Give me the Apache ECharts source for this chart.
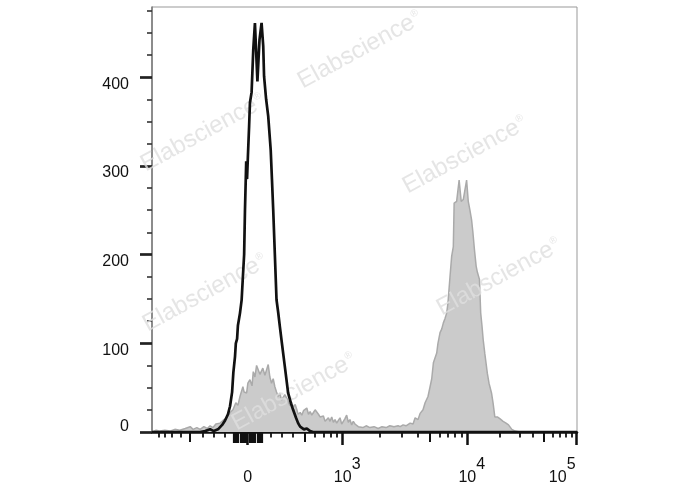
<!DOCTYPE html>
<html><head><meta charset="utf-8">
<script src="https://cdn.jsdelivr.net/npm/echarts@6/dist/echarts.min.js"></script>
<style>html,body{margin:0;padding:0;background:#fff}#c{width:688px;height:490px}</style>
</head><body><div id="c"></div>
<script>
// Histogram data: x = display channel (0..1024 biexponential scale), y = event count
const greyChannel = [0,10,19,31,43,55,67,80,92,99,108,116,125,133,140,147,154,164,171,180,188,195,202,207,212,219,222,228,231,236,241,244,248,252,256,260,264,267,272,276,280,284,288,292,296,300,304,308,312,316,320,325,328,332,337,340,345,349,352,357,361,365,369,373,377,381,385,389,393,397,401,405,409,413,417,421,425,429,433,437,441,445,449,453,457,461,465,469,473,477,481,485,489,493,497,501,508,516,525,535,545,554,564,573,583,593,598,605,612,622,629,634,641,646,653,658,665,670,674,678,682,686,689,694,698,702,706,710,713,718,722,726,728,734,740,745,750,758,762,766,770,773,777,781,784,789,792,795,798,802,808,812,818,822,826,832,838,846,853,859,863,867,875,887,1024];
const greyCount = [0,2,1,2,1,3,2,4,6,3,5,3,6,4,7,5,9,10,13,16,22,25,33,30,40,51,45,44,55,59,52,68,62,75,74,65,66,72,64,70,76,62,55,60,51,45,40,44,36,36,42,38,40,30,33,28,31,25,20,22,19,24,22,27,20,23,19,22,25,27,20,17,15,18,12,14,16,12,17,11,14,10,13,16,9,12,15,19,11,14,8,12,9,10,6,8,5,7,5,6,4,6,5,7,6,7,6,8,7,10,9,16,14,21,25,33,40,51,60,78,80,89,100,112,116,123,128,134,145,175,198,209,258,260,284,260,262,284,260,250,239,226,205,187,180,172,134,120,104,88,66,55,44,32,17,17,15,12,10,8,6,3,1,0,0];
const blackChannel = [0,116,128,140,149,159,169,176,183,188,193,196,200,202,205,207,212,216,219,222,224,227,229,231,234,236,240,244,248,254,259,264,268,270,275,280,286,289,292,296,300,304,308,313,320,328,335,340,347,352,357,361,366,373,376,381,388,1024];
const blackCount = [0,0,1,3,1,3,8,13,20,29,45,67,85,100,105,120,134,149,175,200,250,305,285,310,345,371,383,431,461,395,442,461,435,401,375,356,318,285,251,200,149,135,119,100,74,44,32,25,16,10,6,4,3,4,3,1,0,0];

// Axis ticks (fluorescence units) and labels
const yMajorTicks = [0,100,200,300,400];
const yMinorTicks = [25,50,75,125,150,175,225,250,275,325,350,375,425,450,475];
const xMajorTicks = [0,1e3,1e4,1e5];
const xMidTicks = [-500,500,5000,50000];
const xMinorTicks = [-900,-800,-700,-600,-400,-300,-200,200,300,400,600,700,800,900,2000,3000,4000,6000,7000,8000,9000,20000,30000,40000,60000,70000,80000,90000];
const xNearZeroTicks = [-130,-120,-110,-100,-90,-80,-70,-60,-50,-40,-30,-20,-10,10,20,30,40,50,60,70,80,90,100,110,120,130];
const xLabelValues = [0,1e3,1e4,1e5];
const xLabelBase = ['0','10','10','10'];
const xLabelExp = ['','3','4','5'];

// Biexponential display scale: value -> channel
const ZERO_CH = 230.6, LIN_SLOPE = 0.2735, CH_1E3 = 459.5, CH_1E4 = 759.7, DEC_LOW = 300.2, DEC_HIGH = 263.6;
function biex(v){
  const a = Math.abs(v); let p;
  if (a <= 400) p = LIN_SLOPE*a;
  else if (a <= 1e4) p = CH_1E3 - ZERO_CH + DEC_LOW*Math.log10(a/1e3);
  else p = CH_1E4 - ZERO_CH + DEC_HIGH*Math.log10(a/1e4);
  return ZERO_CH + Math.sign(v)*p;
}

const FONT = 'Liberation Sans, Arial, sans-serif';
const labelCh = xLabelValues.map(biex);
function xLabelFmt(ch){
  let best = 0, bd = 1e9;
  labelCh.forEach((c,i)=>{ const d=Math.abs(c-ch); if(d<bd){bd=d;best=i;} });
  if (!xLabelExp[best]) return '{z|' + xLabelBase[best] + '}';
  if (best === xLabelValues.length-1) return '{b5|' + xLabelBase[best] + '}{s5|' + xLabelExp[best] + '}';
  return '{b|' + xLabelBase[best] + '}{s|' + xLabelExp[best] + '}';
}
function xTickAxis(vals, len, width){
  return {
    type:'value', min:0, max:1024, position:'bottom', gridIndex:0,
    axisLine:{show:false}, splitLine:{show:false}, axisLabel:{show:false},
    axisTick:{show:true, inside:false, length:len, customValues: vals.map(biex), lineStyle:{color:'#111', width:width}}
  };
}

const chart = echarts.init(document.getElementById('c'), null, {renderer:'canvas'});
const WM = 'rgba(222,222,222,0.8)';
const wmStyle = {fill:WM, fontFamily:FONT, fontSize:24,
  rich:{a:{fontSize:24, fontFamily:FONT, fill:WM}, r:{fontSize:10, fontFamily:FONT, fill:WM, padding:[0,0,12,1]}}};
const wmPos = [[360,50],[203,133],[465,155],[205,293],[499,277],[294,392]];

const T = {fontSize:16, fontFamily:FONT, lineHeight:16, color:'#111'};
chart.setOption({
  animation:false,
  backgroundColor:'#fff',
  grid:{left:152, right:111, top:7, bottom:58, show:true, borderColor:'#999', borderWidth:1},
  xAxis:[
    {type:'value', min:0, max:1024, position:'bottom',
      axisLine:{show:true, onZero:false, lineStyle:{color:'#111', width:2.5}},
      splitLine:{show:false},
      axisTick:{show:true, length:13, customValues: xMajorTicks.map(biex), lineStyle:{color:'#111', width:2.5}},
      axisLabel:{show:true, customValues: labelCh, margin:31, color:'#111', fontFamily:FONT, fontSize:16,
        formatter: xLabelFmt,
        rich:{
          z:Object.assign({padding:[13,0,0,0]}, T),
          b:Object.assign({padding:[13,0,0,9]}, T),
          s:Object.assign({padding:[0,0,13,0]}, T),
          b5:Object.assign({padding:[13,0,0,0]}, T),
          s5:Object.assign({padding:[0,29,13,0]}, T)
        }}
    },
    xTickAxis(xMidTicks, 10, 2),
    xTickAxis(xMinorTicks, 5.5, 1.8),
    xTickAxis(xNearZeroTicks, 11, 1.2)
  ],
  yAxis:[
    {type:'value', min:0, max:479, position:'left',
      axisLine:{show:true, onZero:false, lineStyle:{color:'#777', width:1.5}},
      splitLine:{show:false},
      axisTick:{show:true, length:12, customValues: yMajorTicks, lineStyle:{color:'#222', width:2.7}},
      axisLabel:{show:true, customValues: yMajorTicks, margin:23, color:'#111', fontFamily:FONT, fontSize:16,
        formatter: v => v === 0 ? '{z|0}' : '{n|' + v + '}',
        rich:{
          n:{fontSize:16, fontFamily:FONT, color:'#111', padding:[14,0,0,0]},
          z:{fontSize:16, fontFamily:FONT, color:'#111', padding:[0,0,10,0]}
        }}
    },
    {type:'value', min:0, max:479, position:'left',
      axisLine:{show:false}, splitLine:{show:false}, axisLabel:{show:false},
      axisTick:{show:true, length:5, customValues: yMinorTicks, lineStyle:{color:'#333', width:1.6}}
    }
  ],
  graphic: wmPos.map(p => ({type:'text', x:p[0], y:p[1], rotation:0.5, z:3,
    style:Object.assign({text:'{a|Elabscience}{r|®}', align:'center', verticalAlign:'middle'}, wmStyle)})),
  series:[
    {type:'line', name:'grey', xAxisIndex:0, yAxisIndex:0, z:2, showSymbol:false, symbol:'none',
      data: greyChannel.map((c,i)=>[c, greyCount[i]]),
      lineStyle:{color:'#aaaaaa', width:1.5}, areaStyle:{color:'#cbcbcb', opacity:1}},
    {type:'line', name:'black', xAxisIndex:0, yAxisIndex:0, z:5, showSymbol:false, symbol:'none',
      data: blackChannel.map((c,i)=>[c, blackCount[i]]),
      lineStyle:{color:'#111', width:2.7}}
  ]
});
</script></body></html>
